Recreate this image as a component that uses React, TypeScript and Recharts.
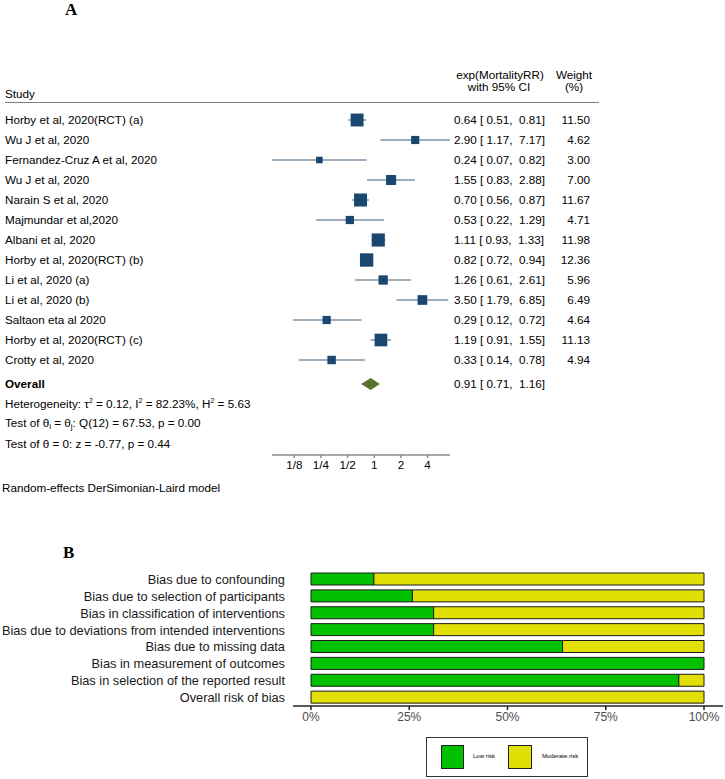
import React from 'react';
import { ScatterChart, Scatter, XAxis, YAxis, ErrorBar, BarChart, Bar } from 'recharts';

// ---- panel A: forest plot ----
const studies = [
  'Horby et al, 2020(RCT) (a)',
  'Wu J et al, 2020',
  'Fernandez-Cruz A et al, 2020',
  'Wu J et al, 2020',
  'Narain S et al, 2020',
  'Majmundar et al,2020',
  'Albani et al, 2020',
  'Horby et al, 2020(RCT) (b)',
  'Li et al, 2020 (a)',
  'Li et al, 2020 (b)',
  'Saltaon eta al 2020',
  'Horby et al, 2020(RCT) (c)',
  'Crotty et al, 2020',
];
const rr = [0.64, 2.9, 0.24, 1.55, 0.7, 0.53, 1.11, 0.82, 1.26, 3.5, 0.29, 1.19, 0.33];
const lower = [0.51, 1.17, 0.07, 0.83, 0.56, 0.22, 0.93, 0.72, 0.61, 1.79, 0.12, 0.91, 0.14];
const upper = [0.81, 7.17, 0.82, 2.88, 0.87, 1.29, 1.33, 0.94, 2.61, 6.85, 0.72, 1.55, 0.78];
const weights = [11.5, 4.62, 3.0, 7.0, 11.67, 4.71, 11.98, 12.36, 5.96, 6.49, 4.64, 11.13, 4.94];
const overallRR = 0.91;
const overallLower = 0.71;
const overallUpper = 1.16;
const rrTicks = [0.125, 0.25, 0.5, 1, 2, 4];
const rrTickLabels = ['1/8', '1/4', '1/2', '1', '2', '4'];

// ---- panel B: risk of bias ----
const domains = [
  'Bias due to confounding',
  'Bias due to selection of participants',
  'Bias in classification of interventions',
  'Bias due to deviations from intended interventions',
  'Bias due to missing data',
  'Bias in measurement of outcomes',
  'Bias in selection of the reported result',
  'Overall risk of bias',
];
const lowRisk = [16, 25.8, 31.2, 31.2, 64, 100, 93.6, 0];
const moderateRisk = [84, 74.2, 68.8, 68.8, 36, 0, 6.4, 100];
const pctTicks = [0, 25, 50, 75, 100];

const FONT = '"Liberation Sans", Arial, sans-serif';
const FS = 11.7;
const NAVY = '#1a476f';
const CI_COLOR = '#7f93a7';
const OLIVE = '#55752f';
const GREEN = '#02C100';
const YELLOW = '#E2DF07';

const overallRow = studies.length + 0.2;

const forestData = studies.map((name, i) => ({
  name,
  row: i,
  rr: rr[i],
  ci: [rr[i] - lower[i], upper[i] - rr[i]],
  weight: weights[i],
}));

const diamondData = [
  { rr: overallLower, row: overallRow },
  { rr: overallRR, row: overallRow - 0.3 },
  { rr: overallUpper, row: overallRow },
  { rr: overallRR, row: overallRow + 0.3 },
];

const rowTicks = [...studies.map((_, i) => i), overallRow];

const fmtCI = (e: number, l: number, u: number) =>
  `${e.toFixed(2)} [ ${l.toFixed(2)},  ${u.toFixed(2)}]`;

const ForestTick = (props: any) => {
  const { y, payload } = props;
  const v = payload.value;
  const isOverall = v === overallRow;
  const i = Math.round(v);
  const name = isOverall ? 'Overall' : studies[i];
  const ci = isOverall ? fmtCI(overallRR, overallLower, overallUpper) : fmtCI(rr[i], lower[i], upper[i]);
  const common = { y, dy: '0.35em', fontSize: FS, fontFamily: FONT, fill: '#000' };
  return (
    <g>
      <text {...common} x={5} textAnchor="start" fontWeight={isOverall ? 'bold' : 'normal'}>
        {name}
      </text>
      <text {...common} x={454} textAnchor="start" style={{ whiteSpace: 'pre' }}>
        {ci}
      </text>
      {!isOverall && (
        <text {...common} x={590} textAnchor="end">
          {weights[i].toFixed(2)}
        </text>
      )}
    </g>
  );
};

const BiasTick = (props: any) => {
  const { x, y, payload } = props;
  return (
    <text x={x} y={y} dy="0.35em" textAnchor="end" fontSize={12.8} fontFamily={FONT} fill="#1a1a1a">
      {payload.value}
    </text>
  );
};

const StudyBox = (props: any) => {
  const { cx, cy, payload } = props;
  const s = 3.8 * Math.sqrt(payload.weight);
  return <rect x={cx - s / 2} y={cy - s / 2} width={s} height={s} fill={NAVY} />;
};

const Diamond = (props: any) => {
  const pts = (props.points || []).map((p: any) => `${p.x},${p.y}`).join(' ');
  return <polygon points={pts} fill={OLIVE} stroke="none" />;
};

const T = ({ x, y, anchor = 'start', style, children }: any) => {
  const tx = anchor === 'middle' ? '-50%' : anchor === 'end' ? '-100%' : '0';
  return (
    <div
      style={{
        position: 'absolute',
        left: x,
        top: y,
        transform: `translate(${tx}, -50%)`,
        whiteSpace: 'nowrap',
        fontFamily: FONT,
        fontSize: FS,
        color: '#000',
        lineHeight: 1.2,
        ...style,
      }}
    >
      {children}
    </div>
  );
};

const sup = { fontSize: 7, verticalAlign: 5 } as React.CSSProperties;
const sub = { fontSize: 8, verticalAlign: -2 } as React.CSSProperties;

export default function App() {
  const biasData = domains.map((d, i) => ({ name: d, low: lowRisk[i], moderate: moderateRisk[i] }));

  return (
    <div style={{ position: 'absolute', left: 0, top: 0, width: 725, height: 779, background: '#fff', overflow: 'hidden' }}>
      {/* Panel A */}
      <T x={65} y={10} style={{ fontFamily: '"Liberation Serif", serif', fontWeight: 'bold', fontSize: 17 }}>A</T>
      <T x={5} y={94}>Study</T>
      <T x={500} y={75} anchor="middle">exp(MortalityRR)</T>
      <T x={499} y={87} anchor="middle">with 95% CI</T>
      <T x={574} y={75} anchor="middle">Weight</T>
      <T x={574} y={87} anchor="middle">(%)</T>
      <div style={{ position: 'absolute', left: 5, top: 102, width: 594, borderTop: '1.5px solid #7f7f7f' }} />

      <div style={{ position: 'absolute', left: 0, top: 0 }}>
        <ScatterChart width={725} height={500} margin={{ top: 120, right: 275, bottom: 15, left: 271 }}>
          <XAxis
            type="number"
            dataKey="rr"
            scale="log"
            domain={[Math.min(...lower), Math.max(...upper)]}
            allowDataOverflow
            ticks={rrTicks}
            interval={0}
            tickFormatter={(v: number) => rrTickLabels[rrTicks.indexOf(v)]}
            stroke="#8a8a8a"
            strokeWidth={1.5}
            tickSize={3}
            tickMargin={3}
            height={30}
            tick={{ fill: '#000', fontSize: FS, fontFamily: FONT }}
          />
          <YAxis
            type="number"
            dataKey="row"
            domain={[0, 16.75]}
            reversed
            ticks={rowTicks}
            interval={0}
            width={1}
            axisLine={false}
            tickLine={false}
            tick={(p: any) => <ForestTick {...p} />}
          />
          <Scatter data={forestData} shape={<StudyBox />} isAnimationActive={false}>
            <ErrorBar dataKey="ci" direction="x" width={0} stroke={CI_COLOR} strokeWidth={1.5} />
          </Scatter>
          <Scatter
            data={diamondData}
            shape={() => <g />}
            line={(p: any) => <Diamond {...p} />}
            isAnimationActive={false}
          />
        </ScatterChart>
      </div>

      <T x={5} y={404}>
        Heterogeneity: τ<span style={sup}>2</span> = 0.12, I<span style={sup}>2</span> = 82.23%, H<span style={sup}>2</span> = 5.63
      </T>
      <T x={5} y={424}>
        Test of θ<span style={sub}>i</span> = θ<span style={sub}>j</span>: Q(12) = 67.53, p = 0.00
      </T>
      <T x={5} y={444}>Test of θ = 0: z = -0.77, p = 0.44</T>
      <T x={2} y={488}>Random-effects DerSimonian-Laird model</T>

      {/* Panel B */}
      <T x={63} y={553} style={{ fontFamily: '"Liberation Serif", serif', fontWeight: 'bold', fontSize: 17 }}>B</T>
      <div style={{ position: 'absolute', left: 0, top: 540 }}>
        <BarChart
          width={725}
          height={239}
          data={biasData}
          layout="vertical"
          margin={{ top: 31, right: 2, bottom: 43, left: 0 }}
          barSize={12}
        >
          <XAxis
            type="number"
            domain={[0, 100]}
            ticks={pctTicks}
            interval={0}
            padding={{ left: 18, right: 19 }}
            tickFormatter={(v: number) => `${v}%`}
            stroke="#222"
            strokeWidth={1.5}
            tickSize={4}
            tickMargin={2}
            height={30}
            tick={{ fill: '#4d4d4d', fontSize: 12, fontFamily: FONT }}
          />
          <YAxis
            type="category"
            dataKey="name"
            width={293}
            axisLine={false}
            tickLine={false}
            interval={0}
            tick={(p: any) => <BiasTick {...p} />}
          />
          <Bar dataKey="low" stackId="a" fill={GREEN} stroke="#1a1a1a" strokeWidth={1} isAnimationActive={false} />
          <Bar dataKey="moderate" stackId="a" fill={YELLOW} stroke="#1a1a1a" strokeWidth={1} isAnimationActive={false} />
        </BarChart>
      </div>

      {/* legend */}
      <div style={{ position: 'absolute', left: 426, top: 737, width: 162, height: 40, border: '1px solid #333', boxSizing: 'border-box' }} />
      <div style={{ position: 'absolute', left: 441, top: 745, width: 23, height: 24, background: GREEN, border: '1px solid #222', boxSizing: 'border-box' }} />
      <T x={473} y={757} style={{ fontSize: 6 }}>Low risk</T>
      <div style={{ position: 'absolute', left: 508, top: 745, width: 24, height: 24, background: YELLOW, border: '1px solid #222', boxSizing: 'border-box' }} />
      <T x={542} y={757} style={{ fontSize: 6 }}>Moderate risk</T>
    </div>
  );
}
